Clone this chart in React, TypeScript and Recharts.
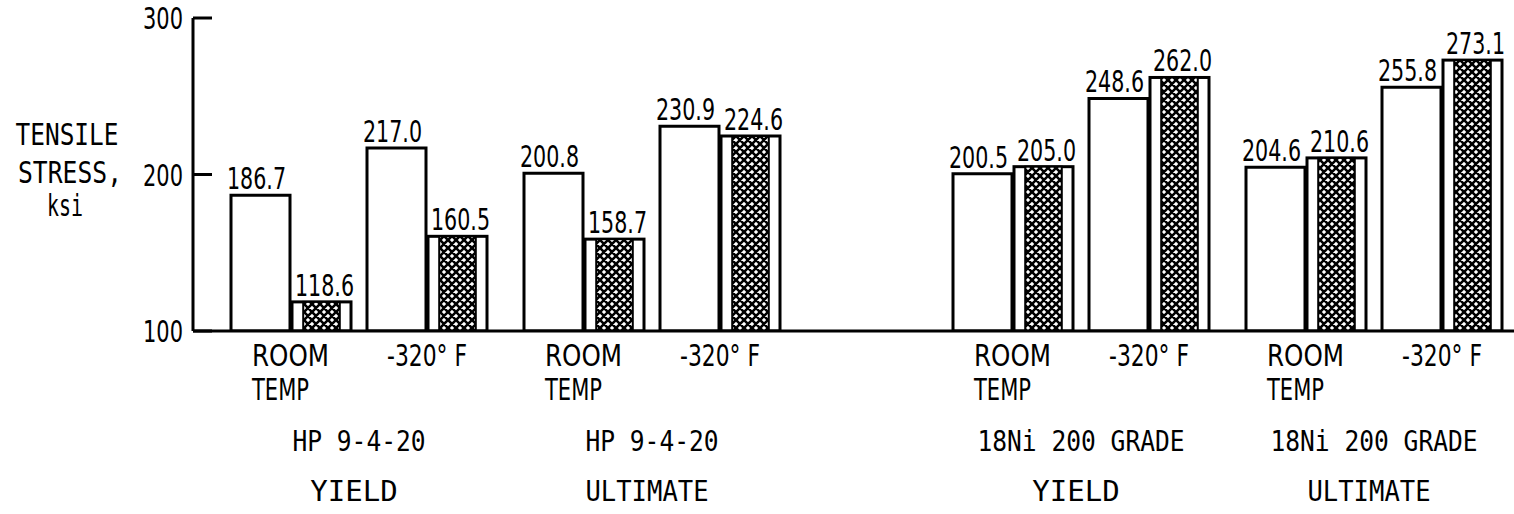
import React from 'react';
import { BarChart, Bar, XAxis, YAxis, LabelList } from 'recharts';

// ---- data ----
const materials = ['HP 9-4-20', '18Ni 200 GRADE'];
const properties = ['YIELD', 'ULTIMATE'];
const temperatures = ['ROOM TEMP', '-320° F'];
const openValues = [186.7, 217.0, 200.8, 230.9, 200.5, 248.6, 204.6, 255.8];
const hatchedValues = [118.6, 160.5, 158.7, 224.6, 205.0, 262.0, 210.6, 273.1];
const yTicks = [100, 200, 300];

// ---- layout (axis units) ----
const X_MAX = 1321;
const X_START = 98;
const TEMP_STEP = 136;
const PROP_STEP = 293;
const MAT_STEP = 722;

const NARROW = "'DejaVu Sans Condensed', 'DejaVu Sans', sans-serif";
const MONO = "'DejaVu Sans Mono', 'Liberation Mono', monospace";

const data = openValues.map((v, i) => {
  const m = Math.floor(i / 4);
  const p = Math.floor(i / 2) % 2;
  const t = i % 2;
  return {
    x: X_START + m * MAT_STEP + p * PROP_STEP + t * TEMP_STEP,
    temp: temperatures[t],
    open: v,
    hatched: hatchedValues[i],
  };
});

const groups: { x: number; material: string; property: string }[] = [];
materials.forEach((mat, m) =>
  properties.forEach((prop, p) =>
    groups.push({
      x: X_START + m * MAT_STEP + p * PROP_STEP + TEMP_STEP / 2,
      material: mat,
      property: prop,
    })
  )
);

const TempTick = (props: any) => {
  const { x, y, payload } = props;
  const d = data.find((r) => r.x === payload.value);
  if (!d) return null;
  if (d.temp === '-320° F') {
    return (
      <text x={x} y={y + 35} textAnchor="middle" fontFamily={NARROW} fontSize={30} fill="#000"
        textLength={80} lengthAdjust="spacingAndGlyphs">
        -320° F
      </text>
    );
  }
  const words = d.temp.split(' ');
  return (
    <g>
      <text x={x - 39} y={y + 35} textAnchor="start" fontFamily={NARROW} fontSize={30} fill="#000"
        textLength={77} lengthAdjust="spacingAndGlyphs">{words[0]}</text>
      <text x={x - 39} y={y + 69} textAnchor="start" fontFamily={NARROW} fontSize={30} fill="#000"
        textLength={57} lengthAdjust="spacingAndGlyphs">{words[1]}</text>
    </g>
  );
};

const GroupTick = (props: any) => {
  const { x, y, payload } = props;
  const g = groups.find((r) => r.x === payload.value);
  if (!g) return null;
  const matLen = g.material.length * 14.8;
  const propLen = g.property.length * (g.property.length < 6 ? 17.5 : 15.4);
  return (
    <g>
      <text x={x} y={y + 60} textAnchor="middle" fontFamily={MONO} fontSize={28} fill="#000"
        textLength={matLen} lengthAdjust="spacingAndGlyphs">
        {g.material}
      </text>
      <text x={x - 5} y={y + 110} textAnchor="middle" fontFamily={MONO} fontSize={28} fill="#000"
        textLength={propLen} lengthAdjust="spacingAndGlyphs">
        {g.property}
      </text>
    </g>
  );
};

const YTick = (props: any) => {
  const { x, y, payload } = props;
  return (
    <g>
      <line x1={x + 10} y1={y} x2={x + 29} y2={y} stroke="#000" strokeWidth={3} />
      <text x={x} y={y + 11} textAnchor="end" fontFamily={NARROW} fontSize={31} fill="#000"
        textLength={40} lengthAdjust="spacingAndGlyphs">
        {payload.value}
      </text>
    </g>
  );
};

const YTitle = (props: any) => {
  const { viewBox } = props;
  const cx = viewBox.x + 67;
  const top = viewBox.y;
  return (
    <g fontFamily={MONO} fontSize={30} fill="#000">
      <text x={cx} y={top + 127} textAnchor="middle" textLength={103} lengthAdjust="spacingAndGlyphs">TENSILE</text>
      <text x={cx + 3} y={top + 165} textAnchor="middle" textLength={104} lengthAdjust="spacingAndGlyphs">STRESS,</text>
      <text x={cx - 2} y={top + 198} textAnchor="middle" textLength={36} lengthAdjust="spacingAndGlyphs">ksi</text>
    </g>
  );
};

const fmt = (v: any) => Number(v).toFixed(1);

const makeValueLabel = (shift: number) => (props: any) => {
  const { x, y, width, value } = props;
  return (
    <text x={x + width / 2 + shift} y={y - 6} textAnchor="middle" fontFamily={NARROW} fontSize={31} fill="#000"
      textLength={59} lengthAdjust="spacingAndGlyphs">
      {fmt(value)}
    </text>
  );
};
const OpenLabel = makeValueLabel(-4);
const HatchLabel = makeValueLabel(3);

const HatchedBar = (props: any) => {
  const { x, y, width, height } = props;
  if (height <= 0) return null;
  const inset = width * 0.19;
  return (
    <g>
      <rect x={x} y={y} width={width} height={height} fill="#fff" stroke="#000" strokeWidth={3} />
      <rect
        x={x + inset}
        y={y}
        width={width - 2 * inset}
        height={height}
        fill="url(#xhatch)"
        stroke="#000"
        strokeWidth={2}
      />
    </g>
  );
};

export default function App() {
  return (
    <div style={{ position: 'absolute', left: 0, top: 0, background: '#fff' }}>
      <BarChart
        width={1514}
        height={514}
        data={data}
        margin={{ top: 18, right: 0, bottom: 0, left: 0 }}
        barGap={2}
        barSize={59}
      >
        <defs>
          <pattern id="xhatch" width="8" height="8" patternUnits="userSpaceOnUse">
            <rect width="8" height="8" fill="#fff" />
            <path d="M0,0 L8,8 M8,0 L0,8 M-2,6 L2,10 M6,-2 L10,2 M-2,2 L2,-2 M6,10 L10,6" stroke="#000" strokeWidth={2.6} />
          </pattern>
        </defs>
        <XAxis
          dataKey="x"
          type="number"
          domain={[0, X_MAX]}
          allowDataOverflow
          ticks={data.map((d) => d.x)}
          interval={0}
          tick={<TempTick />}
          tickLine={false}
          tickSize={0}
          tickMargin={0}
          axisLine={{ stroke: '#000', strokeWidth: 3 }}
          height={60}
        />
        <XAxis
          xAxisId="grp"
          dataKey="x"
          type="number"
          domain={[0, X_MAX]}
          allowDataOverflow
          ticks={groups.map((g) => g.x)}
          interval={0}
          tick={<GroupTick />}
          tickLine={false}
          tickSize={0}
          tickMargin={0}
          axisLine={false}
          height={123}
        />
        <YAxis
          type="number"
          domain={[100, 300]}
          allowDataOverflow
          ticks={yTicks}
          interval={0}
          width={193}
          tick={<YTick />}
          tickLine={false}
          tickSize={0}
          tickMargin={10}
          axisLine={{ stroke: '#000', strokeWidth: 3 }}
          label={{ content: <YTitle /> }}
        />
        <Bar dataKey="open" fill="#fff" stroke="#000" strokeWidth={3} isAnimationActive={false}>
          <LabelList dataKey="open" content={<OpenLabel />} />
        </Bar>
        <Bar dataKey="hatched" shape={<HatchedBar />} isAnimationActive={false}>
          <LabelList dataKey="hatched" content={<HatchLabel />} />
        </Bar>
      </BarChart>
    </div>
  );
}
